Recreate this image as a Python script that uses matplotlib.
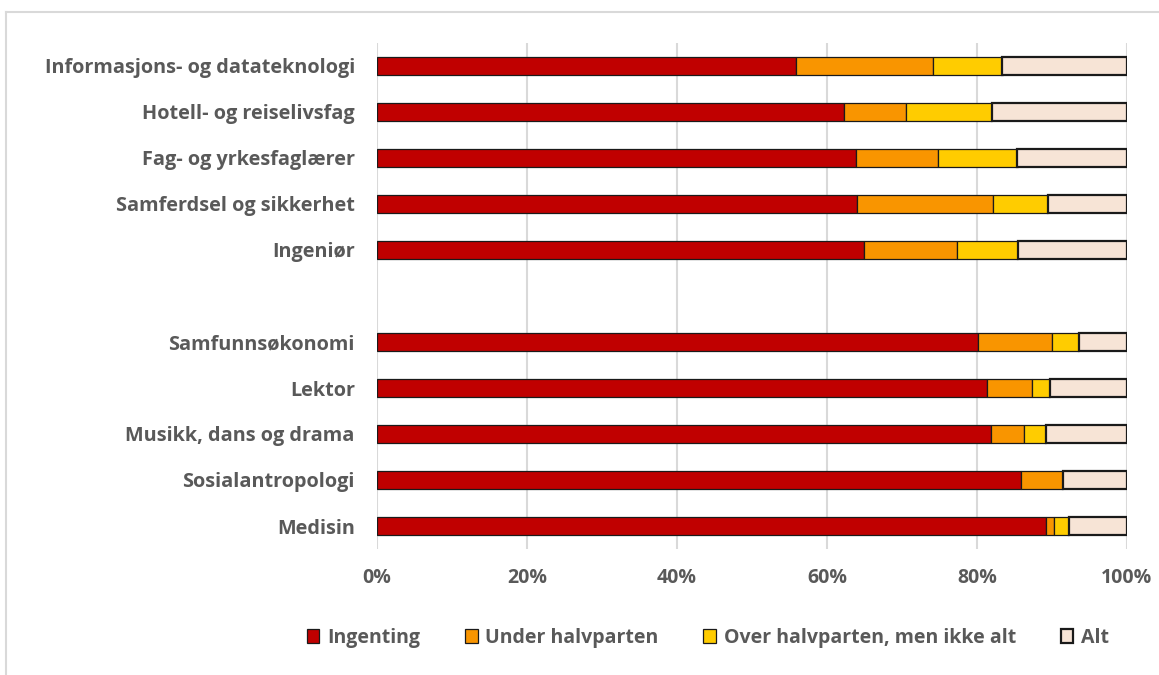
import numpy as np
import matplotlib.pyplot as plt
from matplotlib.lines import Line2D

plt.rcParams['font.family'] = ['Open Sans', 'DejaVu Sans']

# Share of study time (%) by answer, per field of study
categories = ['Informasjons- og datateknologi', 'Hotell- og reiselivsfag',
              'Fag- og yrkesfaglærer', 'Samferdsel og sikkerhet', 'Ingeniør',
              'Samfunnsøkonomi', 'Lektor', 'Musikk, dans og drama',
              'Sosialantropologi', 'Medisin']
ingenting = [55.9, 62.3, 63.8, 64.0, 64.9, 80.1, 81.3, 81.9, 85.8, 89.2]
under_halvparten = [18.2, 8.2, 11.0, 18.1, 12.4, 9.9, 6.0, 4.3, 5.6, 1.1]
over_halvparten = [9.3, 11.5, 10.6, 7.3, 8.2, 3.6, 2.4, 3.0, 0.0, 1.9]
alt = [16.6, 18.0, 14.6, 10.6, 14.5, 6.4, 10.3, 10.8, 8.6, 7.8]

series = [
    ('Ingenting', ingenting, '#C00000'),
    ('Under halvparten', under_halvparten, '#F99500'),
    ('Over halvparten, men ikke alt', over_halvparten, '#FFCC00'),
    ('Alt', alt, '#F7E4D6'),
]
tick_labels = ['0%', '20%', '40%', '60%', '80%', '100%']

text_color = '#595959'
grid_color = '#D9D9D9'

fig = plt.figure(figsize=(11.59, 6.75), dpi=100)
ax = fig.add_axes([377 / 1159, 1 - 549 / 675, 750 / 1159, 506 / 675])

# leave an empty row between the two groups of five
ypos = np.array([i if i < 5 else i + 1 for i in range(len(categories))])

left = np.zeros(len(categories))
for name, vals, color in series:
    vals = np.array(vals)
    lw = 1.6 if name == 'Alt' else 0.9
    ax.barh(ypos, vals, left=left, height=0.41, color=color,
            edgecolor='#1a1a1a', linewidth=lw, label=name, zorder=3)
    left += vals

ax.set_xlim(0, 100)
ax.set_ylim(10.5, -0.5)
ax.set_xticks(np.arange(0, 101, 20))
ax.set_xticklabels(tick_labels)
ax.set_yticks(ypos)
ax.set_yticklabels(categories)
ax.tick_params(axis='both', length=0, labelsize=14, labelcolor=text_color)
ax.tick_params(axis='y', pad=16, labelsize=14.3)
ax.tick_params(axis='x', pad=14)
for lbl in ax.get_xticklabels() + ax.get_yticklabels():
    lbl.set_fontweight('bold')

ax.grid(axis='x', color=grid_color, linewidth=1.5, zorder=0)
ax.set_axisbelow(True)
for s in ax.spines.values():
    s.set_visible(False)

handles, labels = ax.get_legend_handles_labels()
leg = fig.legend(handles, labels, loc='center', ncol=4,
                 bbox_to_anchor=(708 / 1159, 1 - 638 / 675), frameon=False,
                 handlelength=0.65, handleheight=0.75, handletextpad=0.4,
                 columnspacing=2.3, prop={'size': 14, 'weight': 'bold'})
for t in leg.get_texts():
    t.set_color(text_color)

# outer chart frame (open at the right and bottom)
fx, fy = 5.5 / 1159, 1 - 11.5 / 675
fig.add_artist(Line2D([fx, fx], [0, fy], transform=fig.transFigure,
                      color=grid_color, linewidth=1.5))
fig.add_artist(Line2D([fx, 1], [fy, fy], transform=fig.transFigure,
                      color=grid_color, linewidth=1.5))

fig.savefig('out.png', dpi=100)
